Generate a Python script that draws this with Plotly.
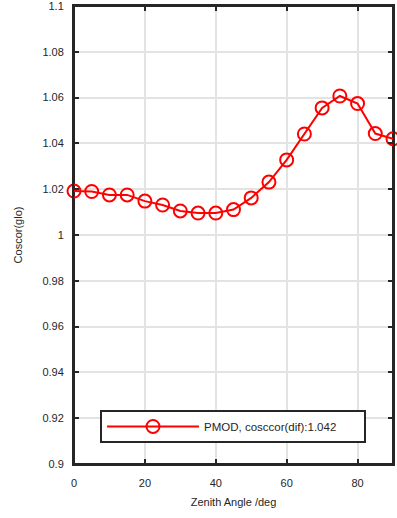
import plotly.graph_objects as go

zenith = [0, 5, 10, 15, 20, 25, 30, 35, 40, 45, 50, 55, 60, 65, 70, 75, 80, 85, 90]
coscor_glo = [1.0192, 1.0190, 1.0175, 1.0175, 1.0148, 1.0131, 1.0105, 1.0096, 1.0096,
              1.0111, 1.0162, 1.0231, 1.0328, 1.0441, 1.0555, 1.0607, 1.0574, 1.0443, 1.042]
series_name = "PMOD, cosccor(dif):1.042"

x_ticks = [0, 20, 40, 60, 80]
x_ticklabels = ["0", "20", "40", "60", "80"]
y_ticks = [0.9, 0.92, 0.94, 0.96, 0.98, 1.0, 1.02, 1.04, 1.06, 1.08, 1.1]
y_ticklabels = ["0.9", "0.92", "0.94", "0.96", "0.98", "1", "1.02", "1.04", "1.06", "1.08", "1.1"]

FONT = "Liberation Sans, Arial, sans-serif"
AX = "#262626"

fig = go.Figure()
fig.add_trace(go.Scatter(
    x=zenith, y=coscor_glo, mode="lines+markers",
    name=series_name + "\u00a0" * 7,
    line=dict(color="#ff0000", width=2),
    marker=dict(symbol="circle-open", size=13, color="#ff0000", line=dict(width=2, color="#ff0000")),
    cliponaxis=False,
))

axis_common = dict(
    showline=True, linecolor=AX, linewidth=2, mirror="all",
    ticks="inside", ticklen=5, tickwidth=2, tickcolor=AX,
    showgrid=True, gridcolor="#e3e3e3", gridwidth=1.5,
    zeroline=False, tickfont=dict(family=FONT, size=11, color=AX),
    ticklabeloverflow="allow",
)

fig.update_layout(
    width=397, height=518,
    margin=dict(l=74, r=4, t=6, b=54, autoexpand=False),
    paper_bgcolor="white", plot_bgcolor="white",
    font=dict(family=FONT, size=11, color=AX),
    xaxis=dict(range=[0, 90], tickvals=x_ticks, ticktext=x_ticklabels, ticklabelstandoff=8,
               title=dict(text="Zenith Angle /deg", font=dict(family=FONT, size=11, color=AX), standoff=10),
               **axis_common),
    yaxis=dict(range=[0.9, 1.1000001], tickvals=y_ticks, ticktext=y_ticklabels, ticklabelstandoff=6,
               title=dict(text="Coscor(glo)", font=dict(family=FONT, size=11, color=AX), standoff=18),
               **axis_common),
    shapes=[dict(type="rect", xref="x domain", yref="y domain", x0=0, x1=1, y0=0, y1=1,
                 line=dict(color=AX, width=2), layer="below")],
    showlegend=True,
    legend=dict(x=0.0815, y=0.118, xanchor="left", yanchor="top",
                itemwidth=92,
                bgcolor="white", bordercolor=AX, borderwidth=2,
                font=dict(family=FONT, size=11.5, color=AX)),
)

fig.write_html("out.html", config={"displayModeBar": False},
               post_script="document.body.style.margin='0';")
